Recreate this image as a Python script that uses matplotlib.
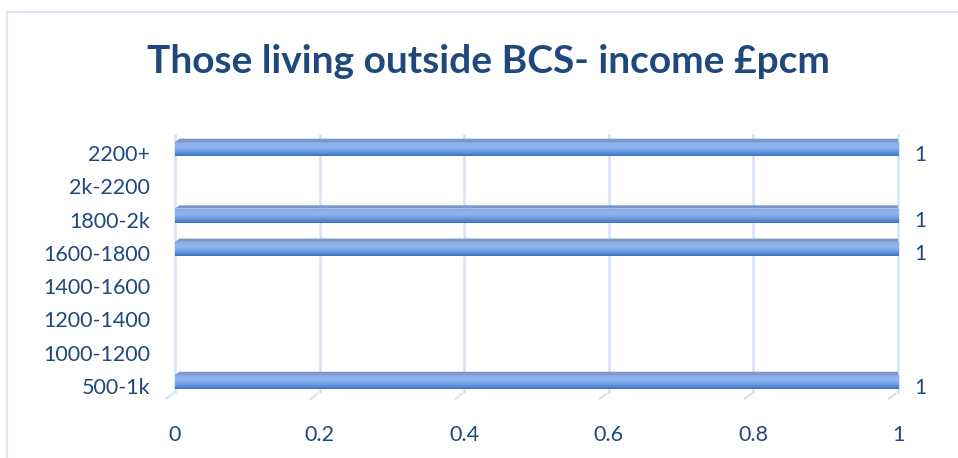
import numpy as np
import matplotlib.pyplot as plt
import matplotlib.transforms as mtransforms
from matplotlib.patches import Rectangle, Polygon
from matplotlib.colors import LinearSegmentedColormap

# income bands (bottom to top) and number of respondents
bands = ["500-1k", "1000-1200", "1200-1400", "1400-1600",
         "1600-1800", "1800-2k", "2k-2200", "2200+"]
counts = [1, 0, 0, 0, 1, 1, 0, 1]
xticks = [0, 0.2, 0.4, 0.6, 0.8, 1]

text_col = "#1F497D"
grid_col = "#D6E2F3"
bar_cmap = LinearSegmentedColormap.from_list(
    "bar", ["#3E72C4", "#6E9BE0", "#93B8F2", "#84AAEA"])

plt.rcParams['font.family'] = ['Lato', 'DejaVu Sans']

fig = plt.figure(figsize=(9.58, 4.58), dpi=100)
ax = fig.add_axes([0.1827, 0.1266, 0.7547, 0.5786])

ax.set_xlim(0, 1)
ax.set_ylim(-0.54, 7.42)

# gridlines with a small slanted foot like a 3D floor
tr = ax.get_xaxis_transform()
for x in xticks:
    ax.plot([x, x], [0.03, 1.0], color=grid_col, lw=1.8, transform=tr,
            zorder=0, clip_on=False)
    ax.annotate("", xy=(x, 0.03), xycoords=tr,
                xytext=(-8, -6), textcoords="offset points",
                arrowprops=dict(arrowstyle="-", color=grid_col, lw=1.6))

h = 0.42
for i, v in enumerate(counts):
    if v <= 0:
        continue
    y0 = i - h / 2
    # gradient body
    im = ax.imshow(np.linspace(0, 1, 50).reshape(-1, 1), cmap=bar_cmap,
                   aspect="auto", extent=[0, v, y0, y0 + h],
                   origin="lower", zorder=2)
    body = Rectangle((0, y0), v, h, facecolor="none", edgecolor="none")
    ax.add_patch(body)
    im.set_clip_path(body)
    # top face and end face
    dx, dy = 0.006, 0.1
    ax.add_patch(Polygon([(0, y0 + h), (v, y0 + h), (v + dx, y0 + h + dy),
                          (dx, y0 + h + dy)], closed=True,
                         facecolor="#7C98C6", edgecolor="none", zorder=3))
    ax.add_patch(Polygon([(v, y0), (v, y0 + h), (v + dx, y0 + h + dy),
                          (v + dx, y0 + dy)], closed=True,
                         facecolor="#3A5A8C", edgecolor="none", zorder=3))
    ax.annotate(f"{v}", xy=(v, i), xytext=(12, -4), textcoords="offset points",
                ha="left", va="center", color=text_col, fontsize=15)

ax.set_yticks(range(len(bands)))
ax.set_yticklabels(bands)
ax.set_xticks(xticks)
ax.set_xticklabels(["0", "0.2", "0.4", "0.6", "0.8", "1"])
ax.tick_params(axis="both", length=0, colors=text_col, labelsize=15.5)
ax.tick_params(axis="y", pad=18)
ax.tick_params(axis="x", pad=18)
# category labels sit a little below the bars
shift = mtransforms.ScaledTranslation(0, -4 / 100, fig.dpi_scale_trans)
for lbl in ax.get_yticklabels():
    lbl.set_transform(lbl.get_transform() + shift)
for s in ax.spines.values():
    s.set_visible(False)

fig.text(0.51, 0.866, "Those living outside BCS- income £pcm", ha="center",
         va="center", fontsize=28, fontweight="bold", color=text_col)

# outer chart border
fig.patches.append(Rectangle((7 / 958, -0.05), 1.2, 1 - 12 / 458 + 0.05,
                             transform=fig.transFigure, fill=False,
                             edgecolor="#D9E5F4", lw=1.5))

fig.savefig("out.png", dpi=100)
